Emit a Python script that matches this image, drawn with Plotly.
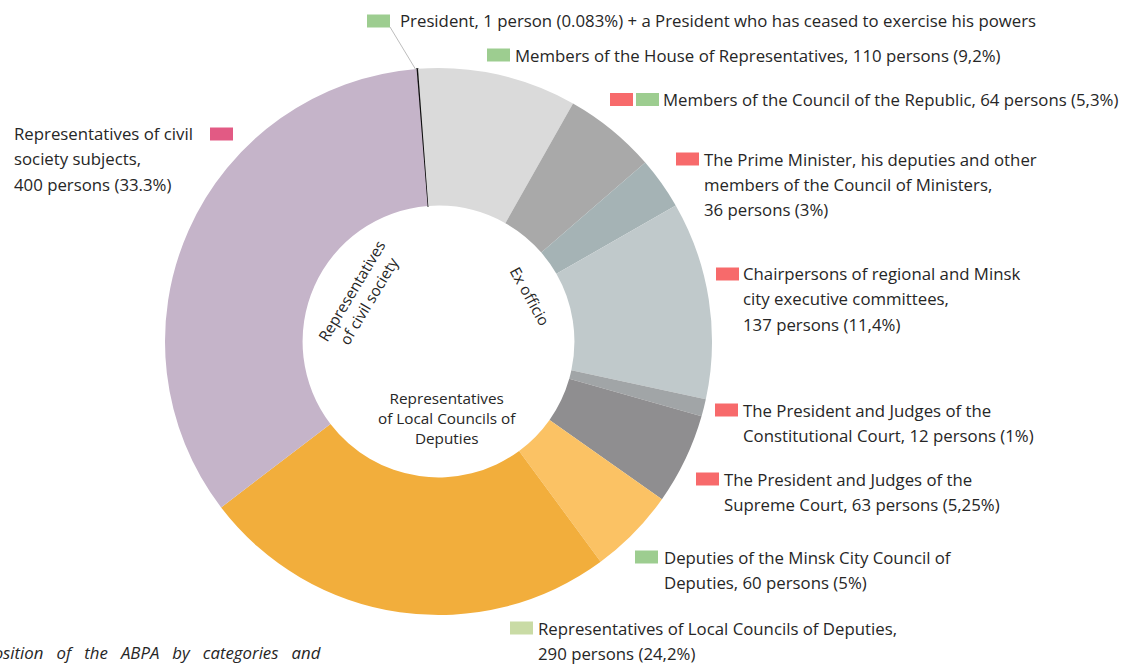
import plotly.graph_objects as go

W, H = 1131, 664

# ---- data ----
categories = [
    "President",
    "Members of the House of Representatives",
    "Members of the Council of the Republic",
    "Council of Ministers",
    "Chairpersons of executive committees",
    "Constitutional Court",
    "Supreme Court",
    "Deputies of the Minsk City Council of Deputies",
    "Representatives of Local Councils of Deputies",
    "Representatives of civil society subjects",
]
persons = [1, 110, 64, 36, 137, 12, 63, 60, 290, 400]
slice_colors = ["#111111", "#dadada", "#a9a9a9", "#a5b3b5", "#c0c9cb",
                "#a1a5a7", "#8f8e90", "#fbc264", "#f2ae3c", "#c5b4c9"]

label_lines = [
    ["President, 1 person (0.083%) + a President who has ceased to exercise his powers"],
    ["Members of the House of Representatives, 110 persons (9,2%)"],
    ["Members of the Council of the Republic, 64 persons (5,3%)"],
    ["The Prime Minister, his deputies and other", "members of the Council of Ministers,", "36 persons (3%)"],
    ["Chairpersons of regional and Minsk", "city executive committees,", "137 persons (11,4%)"],
    ["The President and Judges of the", "Constitutional Court, 12 persons (1%)"],
    ["The President and Judges of the", "Supreme Court, 63 persons (5,25%)"],
    ["Deputies of the Minsk City Council of", "Deputies, 60 persons (5%)"],
    ["Representatives of Local Councils of Deputies,", "290 persons (24,2%)"],
    ["Representatives of civil", "society subjects,", "400 persons (33.3%)"],
]
GREEN, RED, PINK, LGREEN = "#9dcd90", "#f76a6b", "#e25a84", "#c9dba5"
label_marks = [[GREEN], [GREEN], [RED, GREEN], [RED], [RED], [RED], [RED], [GREEN], [LGREEN], [PINK]]

group_labels = ["Representatives<br>of civil society", "Ex officio",
                "Representatives<br>of Local Councils of<br>Deputies"]
caption = "Composition   of   the   ABPA   by   categories   and"

# ---- layout helpers (pixel -> paper) ----
def px(x):
    return x / W

def py(y):
    return 1 - y / H

# label placement: (square left x, square center y, text left x, first line y)
label_pos = [
    (367, 21, 399, 21),
    (487, 55, 514, 55),
    (610, 99.5, 662, 99.5),
    (676, 159, 703, 159),
    (716, 274, 742, 273),
    (715, 410, 742, 410),
    (696, 479, 723, 479),
    (635, 557, 663, 557),
    (510, 628, 537, 628),
    (210, 134, 13, 133),
]
LINE_H = 25.5
SQ_W, SQ_H, SQ_GAP = 23, 13, 3

cx, cy, R = 438.5, 341.5, 273.5

fig = go.Figure()
fig.add_trace(go.Pie(
    labels=categories, values=persons, sort=False, direction="clockwise",
    rotation=-4.6, hole=0.497, textinfo="none", hoverinfo="label+value",
    marker=dict(colors=slice_colors, line=dict(width=[1.2] + [0] * 9, color="#111111")),
    domain=dict(x=[px(cx - R), px(cx + R)], y=[py(cy + R), py(cy - R)]),
    showlegend=False,
))

FONT = "Open Sans"
TXT = "#262626"
FS = 16.8
annotations = []
shapes = []
for lines, marks, (sx, sy, tx, ty) in zip(label_lines, label_marks, label_pos):
    for i, line in enumerate(lines):
        annotations.append(dict(
            x=px(tx), y=py(ty + i * LINE_H), xref="paper", yref="paper",
            text=line, showarrow=False, xanchor="left", yanchor="middle",
            font=dict(family=FONT, size=FS, color=TXT), borderpad=0,
        ))
    for j, c in enumerate(marks):
        x0 = sx + j * (SQ_W + SQ_GAP)
        shapes.append(dict(
            type="rect", xref="paper", yref="paper",
            x0=px(x0), x1=px(x0 + SQ_W), y0=py(sy + SQ_H / 2), y1=py(sy - SQ_H / 2),
            fillcolor=c, line=dict(width=0),
        ))

# leader line for the President
shapes.append(dict(type="line", xref="paper", yref="paper",
                   x0=px(390), y0=py(27), x1=px(416), y1=py(70),
                   line=dict(color="#bdbdbd", width=1)))

# group labels in the hole
GFS = 15.3
annotations.append(dict(x=px(360), y=py(296), xref="paper", yref="paper",
                        text=group_labels[0], showarrow=False, textangle=-59,
                        xanchor="center", yanchor="middle",
                        font=dict(family=FONT, size=GFS, color=TXT)))
annotations.append(dict(x=px(530), y=py(296), xref="paper", yref="paper",
                        text=group_labels[1], showarrow=False, textangle=61,
                        xanchor="center", yanchor="middle",
                        font=dict(family=FONT, size=GFS, color=TXT)))
annotations.append(dict(x=px(447), y=py(418), xref="paper", yref="paper",
                        text=group_labels[2], showarrow=False,
                        xanchor="center", yanchor="middle",
                        font=dict(family=FONT, size=GFS, color=TXT)))

# caption (cut off on the left in the original)
annotations.append(dict(x=px(323), y=py(652), xref="paper", yref="paper",
                        text="<i>" + caption + "</i>", showarrow=False,
                        xanchor="right", yanchor="middle",
                        font=dict(family=FONT, size=FS, color=TXT)))

fig.update_layout(
    width=W, height=H, margin=dict(l=0, r=0, t=0, b=0),
    paper_bgcolor="white", plot_bgcolor="white",
    annotations=annotations, shapes=shapes,
)

fig.write_html("out.html")
